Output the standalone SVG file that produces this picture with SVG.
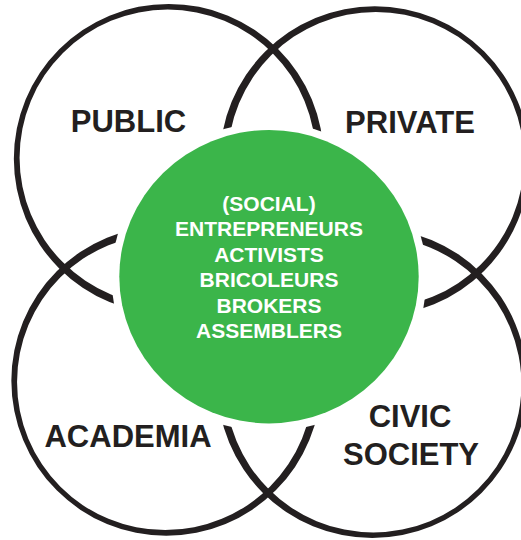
<svg xmlns="http://www.w3.org/2000/svg" width="521" height="540" viewBox="0 0 521 540">
<style>
.ring{fill:#231f20;fill-rule:evenodd}
.lbl{font-family:"Liberation Sans",Arial,sans-serif;font-weight:bold;font-size:31px;fill:#231f20;text-anchor:middle}
.in{font-family:"Liberation Sans",Arial,sans-serif;font-weight:bold;font-size:21px;fill:#ffffff;text-anchor:middle}
</style>
<rect width="521" height="540" fill="#ffffff"/>
<g id="public">
<path class="ring" d="M13.85,158.84 A154.9,154.9 0 1 0 323.65,158.84 A154.9,154.9 0 1 0 13.85,158.84 Z M19.57,157.65 A148.1,148.1 0 1 0 315.77,157.65 A148.1,148.1 0 1 0 19.57,157.65 Z"/>
</g>
<g id="private">
<path class="ring" d="M219.85,161.16 A154.9,154.9 0 1 0 529.65,161.16 A154.9,154.9 0 1 0 219.85,161.16 Z M227.75,160 A148.1,148.1 0 1 0 523.95,160 A148.1,148.1 0 1 0 227.75,160 Z"/>
</g>
<g id="academia">
<path class="ring" d="M11.35,380.84 A154.9,154.9 0 1 0 321.15,380.84 A154.9,154.9 0 1 0 11.35,380.84 Z M17.05,382 A148.1,148.1 0 1 0 313.25,382 A148.1,148.1 0 1 0 17.05,382 Z"/>
</g>
<g id="civic">
<path class="ring" d="M217.35,383.16 A154.9,154.9 0 1 0 527.15,383.16 A154.9,154.9 0 1 0 217.35,383.16 Z M225.23,384.35 A148.1,148.1 0 1 0 521.43,384.35 A148.1,148.1 0 1 0 225.23,384.35 Z"/>
</g>
<g id="center">
<ellipse cx="269" cy="277" rx="157.5" ry="154.5" fill="#ffffff"/>
<ellipse cx="269" cy="276.7" rx="149.7" ry="146.7" fill="#3bb54a"/>
<text class="in" x="269" y="211">(SOCIAL)</text>
<text class="in" x="269" y="236">ENTREPRENEURS</text>
<text class="in" x="269" y="261.5">ACTIVISTS</text>
<text class="in" x="269" y="287">BRICOLEURS</text>
<text class="in" x="269" y="312.5">BROKERS</text>
<text class="in" x="269" y="338">ASSEMBLERS</text>
</g>
<g id="labels">
<text class="lbl" x="128.5" y="132">PUBLIC</text>
<text class="lbl" x="410" y="133">PRIVATE</text>
<text class="lbl" x="128" y="447">ACADEMIA</text>
<text class="lbl" x="410" y="427">CIVIC</text>
<text class="lbl" x="411" y="465">SOCIETY</text>
</g>
</svg>
